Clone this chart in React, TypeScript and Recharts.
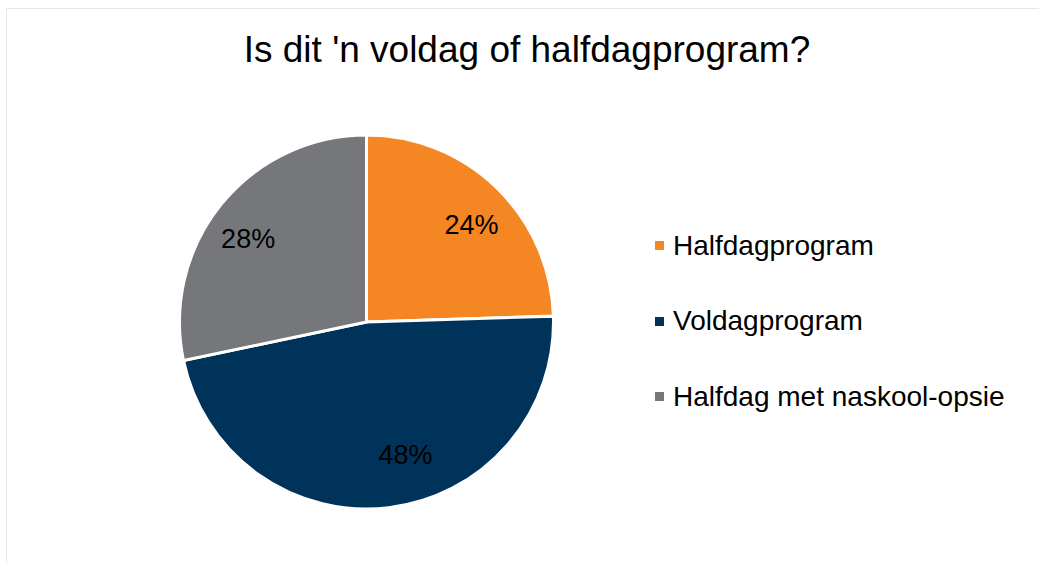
import React from "react";
import { PieChart, Pie, Cell } from "recharts";

const categories = ["Halfdagprogram", "Voldagprogram", "Halfdag met naskool-opsie"];
const values = [24.5, 47.2, 28.3];
const percentLabels = ["24%", "48%", "28%"];
const colors = ["#F48623", "#003359", "#76777B"];
const title = "Is dit 'n voldag of halfdagprogram?";

const data = categories.map((name, i) => ({ name, value: values[i], label: percentLabels[i] }));

const labelNudge = [
  [6, 5],
  [22, -8],
  [-8, 7],
];

const RADIAN = Math.PI / 180;

const renderLabel = (props: any) => {
  const { cx, cy, midAngle, outerRadius, index } = props;
  const r = outerRadius * 0.76;
  const x = cx + r * Math.cos(-midAngle * RADIAN) + labelNudge[index][0];
  const y = cy + r * Math.sin(-midAngle * RADIAN) + labelNudge[index][1];
  return (
    <text
      x={x}
      y={y}
      fill="#000"
      textAnchor="middle"
      dominantBaseline="central"
      fontSize={27}
      fontFamily="Liberation Sans, Arial, sans-serif"
    >
      {data[index].label}
    </text>
  );
};

const LegendBox = () => (
  <div style={{ position: "absolute", left: 655, top: 208, fontFamily: "Liberation Sans, Arial, sans-serif" }}>
    {data.map((d, i) => (
      <div
        key={d.name}
        style={{ display: "flex", alignItems: "center", height: 75.5, fontSize: 28, color: "#000", whiteSpace: "nowrap" }}
      >
        <span style={{ display: "inline-block", width: 9, height: 9, background: colors[i], marginRight: 9 }} />
        <span>{d.name}</span>
      </div>
    ))}
  </div>
);

export default function App() {
  return (
    <div style={{ position: "absolute", left: 0, top: 0, width: 1039, height: 563, overflow: "hidden", background: "#fff" }}>
      <div
        style={{
          position: "absolute",
          left: 6,
          top: 8,
          width: 1100,
          height: 600,
          border: "1px solid #e6e6e6",
        }}
      />
      <div
        style={{
          position: "absolute",
          left: 0,
          top: 29,
          width: 1054,
          textAlign: "center",
          fontSize: 37,
          fontFamily: "Liberation Sans, Arial, sans-serif",
          color: "#000",
          lineHeight: "42px",
        }}
      >
        {title}
      </div>
      <div style={{ position: "absolute", left: 0, top: 0 }}>
        <PieChart width={1039} height={563} margin={{ top: 0, right: 0, bottom: 0, left: 0 }}>
          <Pie
            data={data}
            dataKey="value"
            nameKey="name"
            cx={366.5}
            cy={322}
            outerRadius={187}
            startAngle={90}
            endAngle={-270}
            stroke="#fff"
            strokeWidth={3}
            label={renderLabel}
            labelLine={false}
            isAnimationActive={false}
          >
            {data.map((d, i) => (
              <Cell key={d.name} fill={colors[i]} />
            ))}
          </Pie>
        </PieChart>
      </div>
      <LegendBox />
    </div>
  );
}
